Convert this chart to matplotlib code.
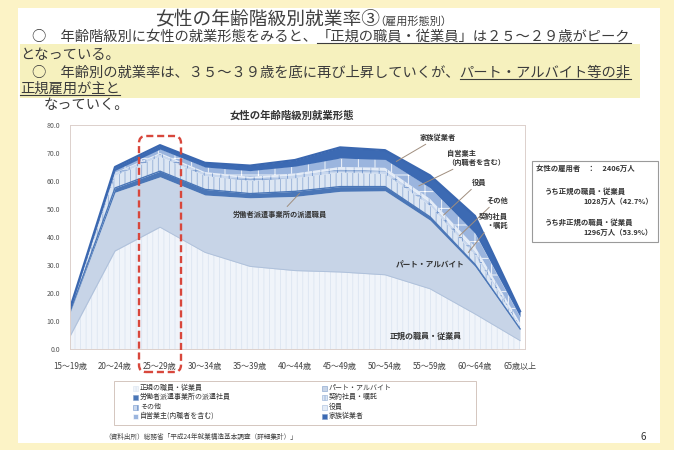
import numpy as np
import matplotlib
matplotlib.use("Agg")
import matplotlib.pyplot as plt
from matplotlib.patches import Rectangle, FancyBboxPatch

plt.rcParams['font.family'] = ['Noto Sans CJK JP', 'DejaVu Sans']
plt.rcParams['hatch.linewidth'] = 0.6

# ---- data (% of women in each age group) ----
age_groups = ["15～19歳", "20～24歳", "25～29歳", "30～34歳", "35～39歳", "40～44歳",
              "45～49歳", "50～54歳", "55～59歳", "60～64歳", "65歳以上"]
regular  = [4.5, 35.0, 43.5, 34.5, 29.5, 28.0, 27.5, 26.5, 21.5, 12.5, 3.0]
part     = [8.5, 21.0, 18.0, 20.5, 24.5, 26.5, 28.8, 30.0, 24.5, 17.0, 4.0]
dispatch = [0.2, 1.5, 2.0, 2.0, 1.5, 1.8, 1.7, 1.5, 1.2, 0.7, 0.2]
contract = [0.4, 4.3, 5.2, 4.8, 4.5, 4.7, 5.0, 4.5, 4.0, 3.3, 0.8]
other    = [0.4, 1.0, 1.0, 1.0, 1.0, 1.1, 1.2, 1.2, 1.2, 1.5, 0.5]
officer  = [0.0, 0.1, 0.3, 0.4, 0.5, 0.6, 0.8, 1.0, 1.2, 1.5, 0.8]
selfemp  = [0.2, 0.9, 1.4, 1.8, 2.2, 2.6, 3.2, 3.0, 4.0, 4.8, 2.2]
family   = [0.3, 1.2, 1.4, 1.5, 1.8, 2.2, 3.8, 3.3, 4.4, 6.2, 2.0]
y_ticks = [0, 10, 20, 30, 40, 50, 60, 70, 80]

series_names = ["正規の職員・従業員", "パート・アルバイト", "労働者派遣事業所の派遣社員",
                "契約社員・嘱託", "その他", "役員", "自営業主(内職者を含む)", "家族従業者"]
series_vals = [regular, part, dispatch, contract, other, officer, selfemp, family]
# (facecolor, hatch colour, hatch)
series_style = [
    ("#F0F4FA", "#DCE5F1", "|||"),
    ("#C7D4E7", "#C7D4E7", None),
    ("#4A76B7", "#4A76B7", None),
    ("#DCE6F3", "#93AED6", "|||"),
    ("#C9D8EE", "#7396CB", "++"),
    ("#E4ECF7", "#A3BADD", "||"),
    ("#9BB5DE", "#FFFFFF", "+"),
    ("#3C6AB3", "#3C6AB3", None),
]

W, H = 674, 450
fig = plt.figure(figsize=(W / 100, H / 100), dpi=100)
fig.patch.set_facecolor("#FCF3C6")


def fx(px):
    return px / W


def fy(py):
    return 1 - py / H


# slide panel and highlighted text block
fig.add_artist(Rectangle((fx(18), fy(443)), 642 / W, 435 / H, facecolor="white",
                         edgecolor="none", transform=fig.transFigure, zorder=-2))
fig.add_artist(Rectangle((fx(20), fy(98)), 620 / W, 54 / H, facecolor="#F6F1BE",
                         edgecolor="none", transform=fig.transFigure, zorder=-1))

txt_col = "#3C3C3C"
renderer = fig.canvas.get_renderer()


def text_line(x, y, plain, underlined=None, size=10.3):
    t = fig.text(fx(x), fy(y), plain, fontsize=size, color=txt_col, va="center", ha="left")
    if underlined:
        bb = t.get_window_extent(renderer)
        t2 = fig.text(bb.x1 / W, fy(y), underlined, fontsize=size, color=txt_col,
                      va="center", ha="left")
        bb2 = t2.get_window_extent(renderer)
        uy = bb2.y0 + 1
        fig.add_artist(plt.Line2D([bb2.x0 / W, bb2.x1 / W], [uy / H, uy / H],
                                  color=txt_col, lw=0.8, transform=fig.transFigure))


# slide title
fig.text(fx(155), fy(19), "女性の年齢階級別就業率③", fontsize=13.5, color="#404040",
         va="center", ha="left")
fig.text(fx(374), fy(22), "（雇用形態別）", fontsize=8, color="#404040", va="center", ha="left")

text_line(32, 37, "○　年齢階級別に女性の就業形態をみると、", "「正規の職員・従業員」は２５～２９歳がピーク")
text_line(20, 55, "となっている。")
text_line(32, 73, "○　年齢別の就業率は、３５～３９歳を底に再び上昇していくが、", "パート・アルバイト等の非")
text_line(20, 89, "", "正規雇用が主と")
text_line(44, 105, "なっていく。")

# ---- stacked area chart ----
ax = fig.add_axes([fx(70), fy(349), 455 / W, 224 / H])
x = np.arange(len(age_groups))
base = np.zeros(len(x))
cum = []
for vals, (fc, hc, hatch) in zip(series_vals, series_style):
    top = base + np.asarray(vals)
    ax.fill_between(x, base, top, facecolor=fc, edgecolor=hc, hatch=hatch, linewidth=0)
    cum.append((base.copy(), top.copy()))
    base = top
total = base
ax.plot(x, regular, color="#AFC1DB", lw=0.7)
ax.plot(x, cum[2][1], color="#4A76B7", lw=1.0)
ax.plot(x, total, color="#3A67B0", lw=1.6)

ax.set_xlim(0, 10.11)
ax.set_ylim(0, 80)
ax.set_yticks(y_ticks)
ax.set_yticklabels([f"{v:.1f}" for v in y_ticks], fontsize=5, color="#555555")
ax.set_xticks(x)
ax.set_xticklabels(age_groups, fontsize=5.8, color="#444444")
ax.tick_params(axis="both", length=0)
ax.tick_params(axis="x", pad=9)
ax.tick_params(axis="y", pad=7)
for s in ax.spines.values():
    s.set_color("#DCD0CC")
    s.set_linewidth(0.7)

fig.text(fx(292), fy(116), "女性の年齢階級別就業形態", fontsize=7.5, fontweight="bold",
         color="#333333", ha="center", va="center")


def mid(idx, xv):
    lo, hi = cum[idx]
    return (np.interp(xv, x, lo) + np.interp(xv, x, hi)) / 2


lead = dict(arrowstyle="-", color="#A08E7E", lw=0.7, shrinkA=1, shrinkB=0)
lab = dict(fontsize=5.2, color="#333333", fontweight="bold", textcoords="figure pixels")
ax.annotate("家族従業者", xy=(7.25, mid(7, 7.25)), xytext=(420, H - 137), ha="left", va="center",
            arrowprops=lead, **lab)
ax.annotate("自営業主\n（内職者を含む）", xy=(7.75, mid(6, 7.75)), xytext=(447, H - 158),
            ha="left", va="center", linespacing=1.2, arrowprops=lead, **lab)
ax.annotate("役員", xy=(8.3, mid(5, 8.3)), xytext=(472, H - 182), ha="left", va="center",
            arrowprops=lead, **lab)
ax.annotate("その他", xy=(8.65, mid(4, 8.65)), xytext=(486, H - 200), ha="left", va="center",
            arrowprops=lead, **lab)
ax.annotate("契約社員\n・嘱託", xy=(8.85, mid(3, 8.85)), xytext=(508, H - 221), ha="right",
            va="center", linespacing=1.2, arrowprops=lead, **lab)
ax.annotate("労働者派遣事業所の派遣職員", xy=(5.1, mid(2, 5.1)), xytext=(233, H - 214),
            ha="left", va="center", arrowprops=lead, **lab)
ax.text(8.0, 30.5, "パート・アルバイト", fontsize=5.5, color="#333333", fontweight="bold",
        ha="center", va="center")
ax.text(7.9, 4.5, "正規の職員・従業員", fontsize=5.8, color="#333333", fontweight="bold",
        ha="center", va="center")

# red dashed frame around the 25-29 group
fig.add_artist(FancyBboxPatch((1.39, (H - 372) / 100), 0.42, 2.36,
                              boxstyle="round,pad=0,rounding_size=0.07",
                              transform=fig.dpi_scale_trans, facecolor="none",
                              edgecolor="#D8473C", lw=1.7, linestyle=(0, (3, 1.6)), zorder=5))

# summary box
fig.add_artist(Rectangle((fx(532), fy(242)), 126 / W, 81 / H, facecolor="white",
                         edgecolor="#9A9A9A", lw=0.8, transform=fig.transFigure))
box_kw = dict(fontsize=5.3, color="#333333", fontweight="bold", va="center")
fig.text(fx(536), fy(168), "女性の雇用者　：　2406万人", ha="left", **box_kw)
fig.text(fx(545), fy(191), "うち正規の職員・従業員", ha="left", **box_kw)
fig.text(fx(653), fy(201), "1028万人（42.7%）", ha="right", **box_kw)
fig.text(fx(545), fy(222), "うち非正規の職員・従業員", ha="left", **box_kw)
fig.text(fx(653), fy(232), "1296万人（53.9%）", ha="right", **box_kw)

# legend
fig.add_artist(Rectangle((fx(114), fy(425)), 362 / W, 44 / H, facecolor="white",
                         edgecolor="#CDBDB4", lw=0.6, transform=fig.transFigure))
rows = [388, 397, 407, 416]
order = [0, 2, 4, 6, 1, 3, 5, 7]
for k, i in enumerate(order):
    col, row = divmod(k, 4)
    mx = 136 if col == 0 else 325
    my = rows[row]
    fc, hc, hatch = series_style[i]
    fig.add_artist(Rectangle((fx(mx - 3), fy(my + 3)), 5 / W, 5 / H, facecolor=fc,
                             edgecolor=hc if hatch else "#7F9CC9", hatch=hatch, lw=0.4,
                             transform=fig.transFigure))
    fig.text(fx(mx + 4), fy(my), series_names[i], fontsize=5, color="#333333",
             ha="left", va="center")

fig.text(fx(104), fy(437), "（資料出所）総務省「平成24年就業構造基本調査（詳細集計）」",
         fontsize=4.8, color="#444444", ha="left", va="center")
fig.text(fx(643), fy(437), "6", fontsize=7, color="#333333", ha="center", va="center")

fig.savefig("out.png", dpi=100, facecolor=fig.get_facecolor())
